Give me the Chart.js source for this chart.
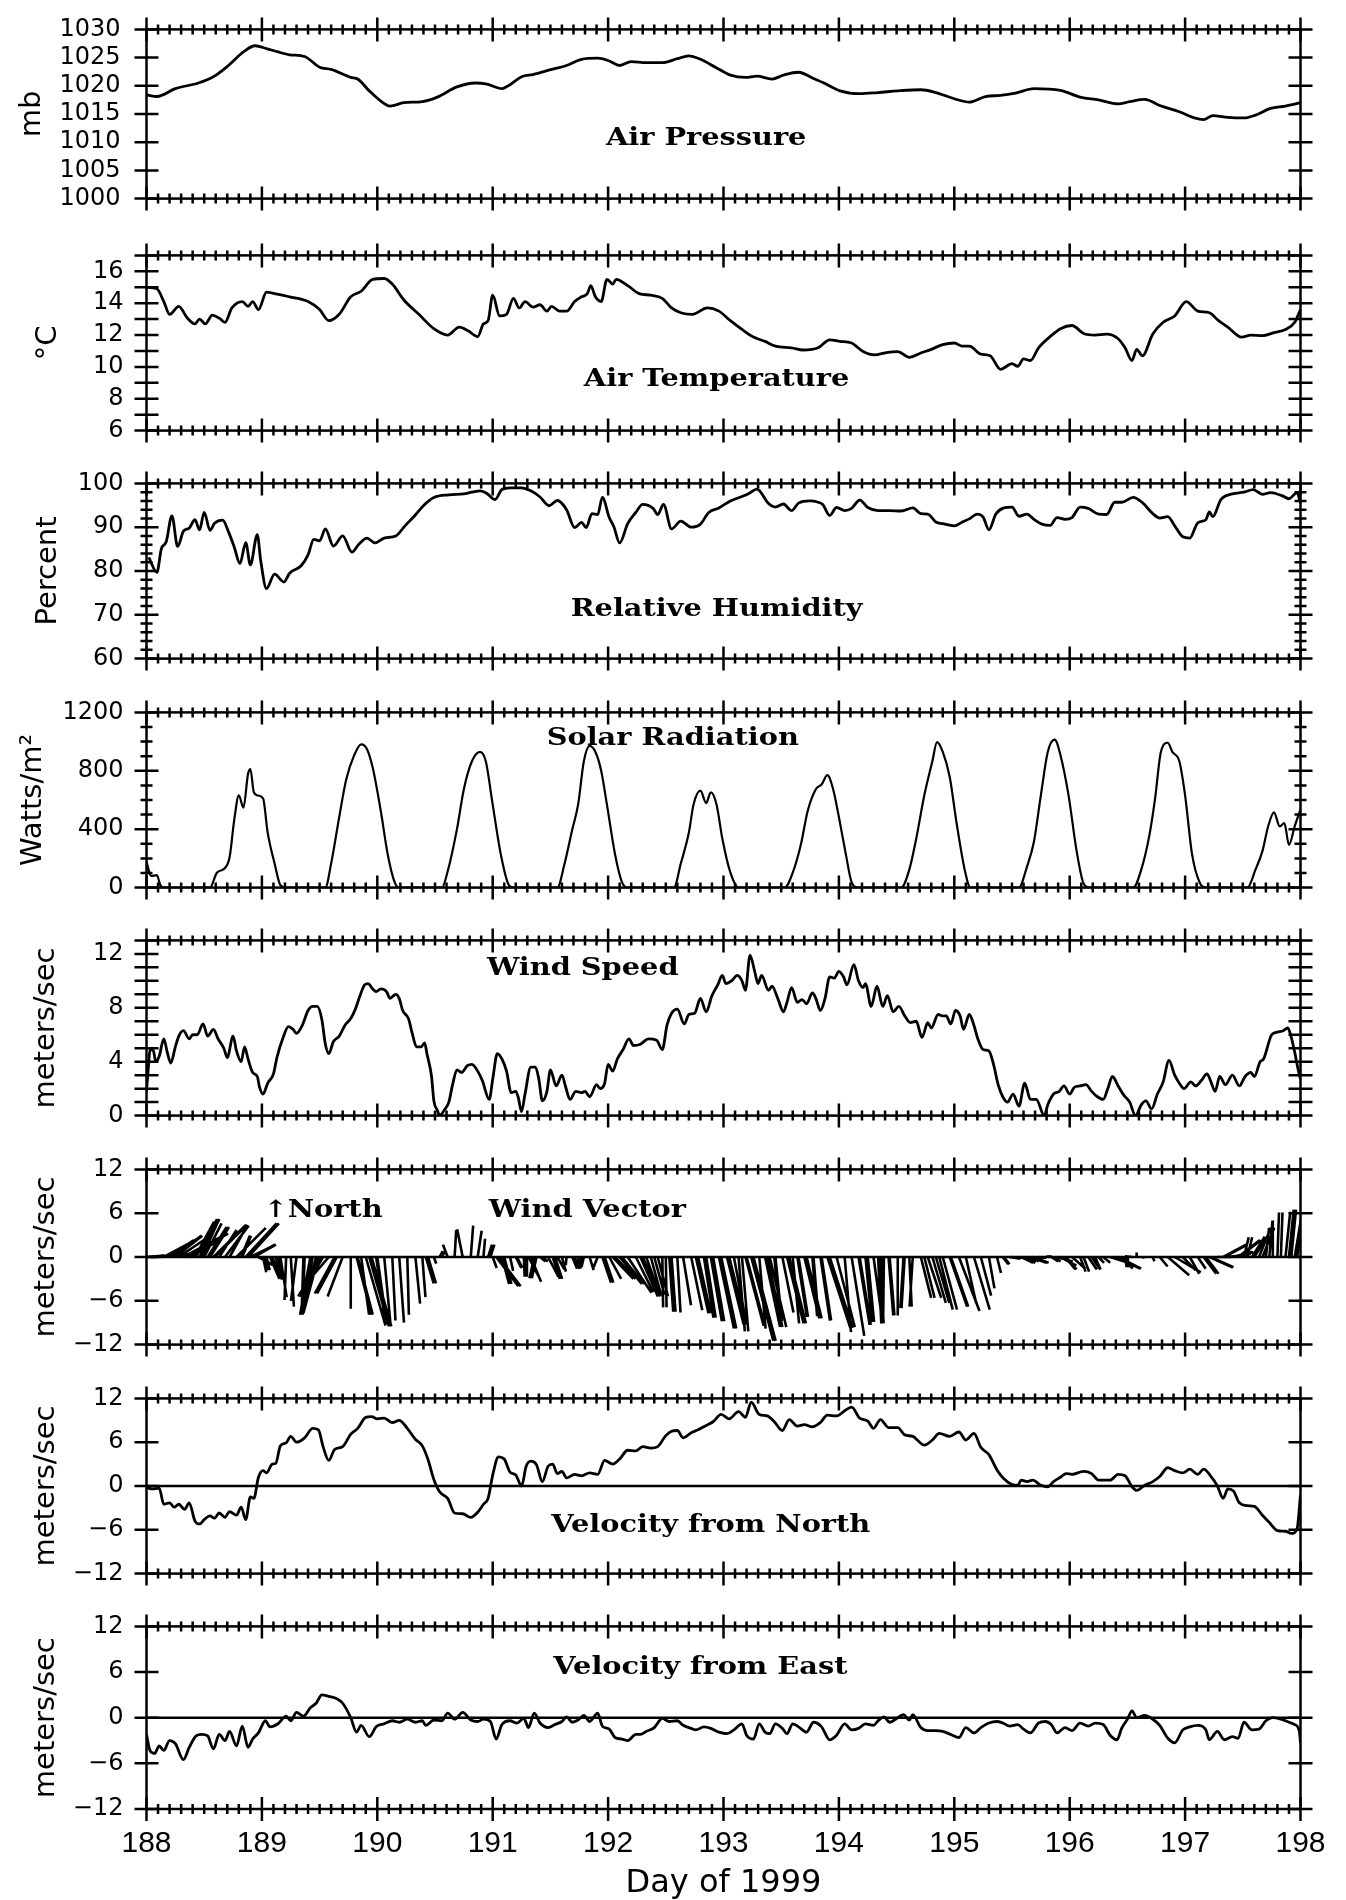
<!DOCTYPE html>
<html>
<head>
<meta charset="utf-8">
<title>Surface meteorology, days 188-198 of 1999</title>
<script src="https://cdn.jsdelivr.net/npm/chart.js@4.4.1/dist/chart.umd.min.js"></script>
<style>
  html, body { margin: 0; padding: 0; background: #fff; }
  body { width: 1346px; height: 1900px; position: relative; overflow: hidden; }
  canvas { position: absolute; left: 0; }
</style>
</head>
<body>
<script>
// ---- values: [day of 1999, value] ----
const dayTicks = [188, 189, 190, 191, 192, 193, 194, 195, 196, 197, 198];
const pressureTicks = [1000, 1005, 1010, 1015, 1020, 1025, 1030];
const temperatureTicks = [6, 8, 10, 12, 14, 16];
const humidityTicks = [60, 70, 80, 90, 100];
const solarTicks = [0, 400, 800, 1200];
const speedTicks = [0, 4, 8, 12];
const velocityTicks = [-12, -6, 0, 6, 12];

const airPressure = [
  [188.00, 1018.4], [188.09, 1018.1], [188.25, 1019.5], [188.45, 1020.5], [188.58, 1021.6],
  [188.71, 1023.6], [188.84, 1026.0], [188.94, 1027.1], [189.04, 1026.6], [189.14, 1026.0],
  [189.24, 1025.5], [189.37, 1025.2], [189.50, 1023.3], [189.60, 1022.9], [189.77, 1021.5],
  [189.83, 1021.2], [189.93, 1019.1], [190.03, 1017.3], [190.11, 1016.4], [190.23, 1017.0],
  [190.39, 1017.2], [190.52, 1018.0], [190.69, 1019.8], [190.85, 1020.5], [190.95, 1020.3],
  [191.08, 1019.5], [191.15, 1020.2], [191.25, 1021.6], [191.35, 1022.0], [191.51, 1022.9],
  [191.64, 1023.6], [191.77, 1024.7], [191.91, 1024.9], [192.01, 1024.4], [192.10, 1023.6],
  [192.20, 1024.3], [192.33, 1024.1], [192.47, 1024.1], [192.60, 1024.8], [192.70, 1025.3],
  [192.80, 1024.7], [192.93, 1023.3], [193.06, 1021.9], [193.19, 1021.5], [193.29, 1021.7],
  [193.42, 1021.2], [193.52, 1021.9], [193.65, 1022.4], [193.78, 1021.3], [193.88, 1020.4],
  [194.01, 1019.1], [194.18, 1018.6], [194.34, 1018.8], [194.51, 1019.1], [194.71, 1019.3],
  [194.84, 1018.8], [195.00, 1017.7], [195.13, 1017.1], [195.27, 1018.1], [195.40, 1018.3],
  [195.53, 1018.7], [195.69, 1019.5], [195.92, 1019.2], [196.09, 1018.0], [196.25, 1017.5],
  [196.42, 1016.8], [196.52, 1017.2], [196.65, 1017.6], [196.78, 1016.5], [196.95, 1015.4],
  [197.08, 1014.3], [197.16, 1014.0], [197.24, 1014.7], [197.37, 1014.4], [197.51, 1014.3],
  [197.61, 1014.8], [197.74, 1016.0], [197.87, 1016.4], [198.00, 1017.0]
];

const airTemperature = [
  [188.00, 15.0], [188.09, 14.9], [188.15, 14.1], [188.20, 13.3], [188.28, 13.8], [188.35, 13.1],
  [188.42, 12.7], [188.46, 13.0], [188.51, 12.7], [188.57, 13.25], [188.63, 13.06], [188.68, 12.8],
  [188.74, 13.7], [188.83, 14.1], [188.88, 13.8], [188.92, 14.1], [188.97, 13.6], [189.04, 14.7],
  [189.11, 14.6], [189.24, 14.4], [189.40, 14.1], [189.50, 13.6], [189.58, 12.9], [189.67, 13.3],
  [189.77, 14.4], [189.86, 14.75], [189.96, 15.5], [190.06, 15.55], [190.13, 15.2], [190.23, 14.2],
  [190.36, 13.3], [190.49, 12.4], [190.61, 12.0], [190.71, 12.5], [190.79, 12.25], [190.87, 11.9],
  [190.92, 12.7], [190.96, 12.9], [191.00, 14.5], [191.06, 13.2], [191.12, 13.3], [191.18, 14.3],
  [191.23, 13.7], [191.28, 14.1], [191.35, 13.75], [191.41, 13.9], [191.47, 13.5], [191.51, 13.8],
  [191.58, 13.5], [191.64, 13.5], [191.71, 14.1], [191.77, 14.4], [191.82, 14.6], [191.85, 15.1],
  [191.89, 14.4], [191.94, 14.1], [191.99, 15.5], [192.04, 15.2], [192.07, 15.5], [192.17, 15.1],
  [192.27, 14.6], [192.37, 14.5], [192.47, 14.3], [192.55, 13.7], [192.63, 13.4], [192.73, 13.3],
  [192.86, 13.7], [192.96, 13.5], [193.06, 12.9], [193.16, 12.35], [193.26, 11.87], [193.36, 11.6],
  [193.45, 11.3], [193.59, 11.2], [193.69, 11.06], [193.82, 11.2], [193.92, 11.7], [194.01, 11.6],
  [194.11, 11.5], [194.21, 10.96], [194.31, 10.75], [194.41, 10.9], [194.51, 10.96], [194.61, 10.6],
  [194.71, 10.87], [194.80, 11.1], [194.90, 11.4], [195.00, 11.5], [195.07, 11.3], [195.13, 11.3],
  [195.23, 10.8], [195.31, 10.7], [195.40, 9.85], [195.50, 10.2], [195.55, 10.04], [195.60, 10.5],
  [195.66, 10.4], [195.73, 11.2], [195.83, 11.9], [195.92, 12.4], [196.02, 12.6], [196.12, 12.1],
  [196.22, 12.0], [196.32, 12.06], [196.42, 11.77], [196.48, 11.2], [196.54, 10.4], [196.58, 11.1],
  [196.63, 10.7], [196.72, 12.06], [196.81, 12.8], [196.91, 13.2], [197.01, 14.1], [197.11, 13.5],
  [197.21, 13.4], [197.29, 12.9], [197.37, 12.5], [197.49, 11.87], [197.57, 12.0], [197.67, 11.96],
  [197.77, 12.15], [197.87, 12.35], [197.95, 12.8], [198.00, 13.6]
];

const relHumidity = [
  [188.02, 83.1], [188.09, 79.7], [188.13, 85.2], [188.17, 86.6], [188.22, 92.6], [188.27, 85.6],
  [188.32, 89.1], [188.37, 89.8], [188.42, 91.7], [188.46, 89.4], [188.50, 93.4], [188.55, 89.3],
  [188.59, 90.9], [188.66, 91.6], [188.71, 89.0], [188.76, 85.5], [188.81, 81.7], [188.86, 86.5],
  [188.90, 81.4], [188.96, 88.3], [188.99, 82.3], [189.04, 76.0], [189.11, 79.3], [189.19, 77.5],
  [189.24, 79.5], [189.34, 81.2], [189.40, 83.7], [189.45, 87.2], [189.50, 86.9], [189.55, 89.6],
  [189.62, 85.7], [189.70, 88.0], [189.78, 84.3], [189.84, 86.1], [189.91, 87.5], [189.98, 86.4],
  [190.06, 87.5], [190.16, 88.0], [190.24, 90.3], [190.33, 92.8], [190.41, 95.2], [190.49, 96.8],
  [190.62, 97.4], [190.75, 97.6], [190.89, 98.3], [190.95, 97.7], [191.02, 96.3], [191.08, 98.6],
  [191.15, 99.0], [191.25, 99.0], [191.33, 98.3], [191.41, 96.9], [191.49, 94.9], [191.56, 96.1],
  [191.64, 94.0], [191.71, 89.9], [191.77, 91.1], [191.81, 89.9], [191.86, 93.1], [191.91, 92.9],
  [191.95, 96.8], [192.01, 92.2], [192.05, 90.1], [192.10, 86.4], [192.17, 90.8], [192.24, 93.4],
  [192.30, 95.2], [192.39, 94.3], [192.43, 92.9], [192.48, 95.2], [192.55, 89.6], [192.63, 91.4],
  [192.72, 90.0], [192.80, 90.7], [192.87, 93.3], [192.96, 94.4], [193.06, 96.0], [193.16, 97.0],
  [193.22, 97.7], [193.29, 98.7], [193.39, 95.4], [193.45, 94.6], [193.52, 95.3], [193.59, 93.8],
  [193.65, 95.5], [193.75, 96.0], [193.82, 95.7], [193.86, 95.2], [193.92, 92.7], [193.98, 94.5],
  [194.05, 93.8], [194.11, 94.3], [194.18, 96.2], [194.25, 94.5], [194.34, 93.8], [194.44, 93.8],
  [194.54, 93.7], [194.64, 94.4], [194.71, 93.1], [194.77, 93.0], [194.84, 91.2], [194.90, 90.8],
  [195.00, 90.3], [195.07, 91.2], [195.13, 91.9], [195.20, 93.0], [195.25, 92.3], [195.30, 89.4],
  [195.36, 93.0], [195.43, 94.4], [195.50, 94.6], [195.56, 92.5], [195.63, 93.0], [195.69, 91.8],
  [195.76, 90.7], [195.83, 90.4], [195.89, 92.2], [195.96, 91.8], [196.02, 92.2], [196.09, 94.6],
  [196.16, 94.3], [196.25, 93.0], [196.32, 92.9], [196.39, 95.7], [196.45, 95.7], [196.55, 96.8],
  [196.63, 95.6], [196.72, 93.1], [196.78, 92.1], [196.85, 92.4], [196.91, 90.3], [196.98, 87.8],
  [197.04, 87.5], [197.11, 91.0], [197.18, 91.7], [197.21, 93.5], [197.24, 92.4], [197.31, 96.3],
  [197.41, 97.6], [197.51, 98.0], [197.59, 98.6], [197.67, 97.5], [197.74, 97.9], [197.84, 97.2],
  [197.90, 96.5], [197.97, 97.9], [198.00, 95.5]
];

const solarRadiation = [
  [188.00, 176], [188.04, 80], [188.09, 85], [188.12, 17], [188.15, 0],
  [188.55, 0], [188.61, 102], [188.68, 134], [188.72, 208], [188.76, 462], [188.80, 632], [188.84, 547],
  [188.88, 780], [188.90, 812], [188.93, 653], [188.96, 632], [189.01, 611], [189.05, 377], [189.11, 165],
  [189.16, 17], [189.21, 0],
  [189.55, 0], [189.60, 165], [189.67, 483], [189.73, 738], [189.80, 907], [189.86, 981], [189.91, 950],
  [189.96, 822], [190.03, 526], [190.09, 229], [190.15, 38], [190.19, 0],
  [190.56, 0], [190.61, 112], [190.69, 399], [190.75, 674], [190.82, 865], [190.89, 929], [190.94, 865],
  [191.00, 568], [191.07, 229], [191.14, 17], [191.18, 0],
  [191.56, 0], [191.62, 155], [191.69, 399], [191.74, 568], [191.79, 865], [191.84, 971], [191.89, 929],
  [191.94, 801], [191.99, 568], [192.06, 229], [192.12, 38], [192.17, 0],
  [192.57, 0], [192.63, 165], [192.70, 377], [192.74, 568], [192.80, 664], [192.85, 579], [192.89, 653],
  [192.94, 568], [192.99, 335], [193.06, 102], [193.13, 0],
  [193.53, 0], [193.60, 102], [193.67, 293], [193.73, 526], [193.80, 674], [193.85, 706], [193.90, 770],
  [193.95, 674], [194.00, 483], [194.06, 229], [194.11, 38], [194.17, 0],
  [194.54, 0], [194.61, 123], [194.67, 335], [194.74, 632], [194.81, 865], [194.85, 996], [194.90, 929],
  [194.96, 759], [195.02, 441], [195.09, 123], [195.14, 0],
  [195.56, 0], [195.63, 144], [195.69, 314], [195.75, 632], [195.81, 929], [195.87, 1013], [195.92, 907],
  [195.99, 632], [196.06, 250], [196.12, 28], [196.17, 0],
  [196.55, 0], [196.62, 123], [196.69, 356], [196.74, 611], [196.79, 929], [196.85, 992], [196.89, 929],
  [196.95, 865], [197.00, 632], [197.06, 229], [197.13, 28], [197.18, 0],
  [197.54, 0], [197.61, 123], [197.67, 250], [197.72, 420], [197.77, 515], [197.82, 420], [197.86, 441],
  [197.90, 293], [197.95, 420], [198.00, 536]
];

const windSpeed = [
  [188.00, 1.8], [188.02, 4.0], [188.03, 4.9], [188.06, 4.8], [188.08, 4.0], [188.11, 4.4], [188.15, 5.7],
  [188.18, 4.7], [188.21, 3.9], [188.25, 5.1], [188.28, 5.9], [188.32, 6.3], [188.37, 5.7], [188.40, 6.0],
  [188.44, 6.0], [188.49, 6.8], [188.53, 5.9], [188.58, 6.4], [188.62, 5.7], [188.67, 5.0], [188.70, 4.3],
  [188.75, 5.9], [188.78, 4.8], [188.82, 4.0], [188.85, 5.1], [188.88, 4.2], [188.92, 3.2], [188.96, 2.9],
  [188.98, 2.1], [189.01, 1.6], [189.05, 2.4], [189.10, 3.1], [189.13, 4.3], [189.18, 5.7], [189.23, 6.6],
  [189.27, 6.4], [189.30, 6.1], [189.35, 6.7], [189.40, 7.8], [189.44, 8.1], [189.48, 8.1], [189.52, 7.1],
  [189.55, 5.3], [189.58, 4.6], [189.62, 5.5], [189.67, 5.9], [189.72, 6.7], [189.77, 7.2], [189.81, 7.9],
  [189.85, 8.9], [189.89, 9.7], [189.92, 9.8], [189.96, 9.4], [189.99, 9.2], [190.03, 9.4], [190.08, 9.2],
  [190.11, 8.7], [190.16, 9.0], [190.19, 8.7], [190.22, 7.8], [190.27, 7.2], [190.30, 6.2], [190.34, 5.1],
  [190.38, 5.1], [190.41, 5.4], [190.43, 4.6], [190.47, 2.9], [190.49, 1.1], [190.52, 0.4], [190.54, 0.0],
  [190.58, 0.4], [190.62, 1.0], [190.65, 2.2], [190.69, 3.4], [190.73, 3.2], [190.78, 3.7], [190.82, 3.8],
  [190.87, 3.3], [190.91, 2.6], [190.97, 1.2], [191.00, 2.7], [191.04, 4.6], [191.08, 4.2], [191.12, 3.3],
  [191.16, 1.7], [191.20, 1.8], [191.22, 1.4], [191.25, 0.3], [191.28, 1.6], [191.33, 3.6], [191.37, 3.6],
  [191.40, 2.7], [191.43, 1.1], [191.47, 1.8], [191.50, 3.4], [191.55, 2.2], [191.60, 3.0], [191.63, 2.2],
  [191.67, 1.2], [191.72, 1.8], [191.77, 1.7], [191.80, 1.8], [191.84, 1.4], [191.90, 2.3], [191.93, 2.0],
  [191.97, 2.4], [192.00, 3.8], [192.04, 3.3], [192.08, 4.2], [192.13, 4.9], [192.18, 5.7], [192.22, 5.2],
  [192.28, 5.3], [192.35, 5.7], [192.42, 5.6], [192.47, 4.9], [192.51, 6.7], [192.55, 7.6], [192.60, 7.9],
  [192.66, 6.8], [192.70, 7.5], [192.75, 7.6], [192.80, 8.7], [192.85, 7.7], [192.90, 8.9], [192.95, 9.7],
  [192.99, 10.4], [193.02, 9.8], [193.07, 10.0], [193.12, 10.4], [193.16, 10.0], [193.19, 9.3], [193.23, 11.9],
  [193.27, 10.7], [193.30, 9.8], [193.33, 10.4], [193.39, 9.3], [193.42, 9.6], [193.47, 8.7], [193.52, 7.7],
  [193.55, 8.4], [193.59, 9.5], [193.64, 8.4], [193.68, 8.6], [193.72, 8.3], [193.77, 9.1], [193.80, 8.7],
  [193.84, 7.8], [193.88, 8.7], [193.92, 10.3], [193.96, 10.2], [194.00, 10.7], [194.04, 10.3], [194.07, 9.7],
  [194.13, 11.2], [194.17, 10.0], [194.21, 9.5], [194.23, 9.8], [194.28, 8.1], [194.33, 9.6], [194.38, 8.1],
  [194.42, 8.9], [194.47, 7.7], [194.52, 8.1], [194.57, 7.4], [194.62, 6.9], [194.67, 7.0], [194.72, 5.8],
  [194.77, 6.9], [194.80, 6.5], [194.86, 7.5], [194.90, 7.4], [194.93, 7.4], [194.97, 6.8], [195.01, 7.8],
  [195.05, 7.4], [195.08, 6.4], [195.13, 7.5], [195.17, 6.7], [195.20, 5.8], [195.25, 4.9], [195.30, 4.8],
  [195.34, 3.8], [195.38, 2.3], [195.42, 1.4], [195.46, 1.0], [195.51, 1.6], [195.56, 0.7], [195.61, 2.4],
  [195.66, 1.2], [195.71, 1.2], [195.78, 0.0], [195.81, 0.8], [195.86, 1.6], [195.91, 1.8], [195.95, 2.2],
  [196.00, 1.6], [196.04, 2.1], [196.09, 2.2], [196.14, 2.3], [196.19, 1.8], [196.24, 1.4], [196.29, 1.2],
  [196.33, 2.0], [196.37, 2.9], [196.42, 2.2], [196.47, 1.5], [196.52, 1.0], [196.57, 0.0], [196.62, 0.8],
  [196.66, 1.1], [196.71, 0.5], [196.76, 1.6], [196.81, 2.5], [196.86, 4.1], [196.91, 3.0], [196.95, 2.4],
  [196.99, 2.0], [197.05, 2.5], [197.09, 2.2], [197.14, 2.6], [197.19, 3.1], [197.22, 2.6], [197.26, 1.8],
  [197.30, 2.9], [197.35, 2.3], [197.41, 3.0], [197.47, 2.2], [197.52, 2.9], [197.57, 3.2], [197.60, 2.9],
  [197.65, 4.0], [197.68, 4.2], [197.75, 6.0], [197.80, 6.2], [197.85, 6.3], [197.89, 6.5], [197.92, 5.8],
  [197.95, 4.7], [197.98, 3.4], [198.00, 2.7]
];

// velocity from north (positive = wind blowing from the north)
const northVelocity = [
  [188.00, -0.2], [188.05, -0.4], [188.11, -0.3], [188.15, -2.5], [188.20, -2.3], [188.24, -2.9],
  [188.28, -2.5], [188.33, -3.2], [188.37, -2.3], [188.42, -4.8], [188.46, -5.2], [188.50, -4.6],
  [188.55, -4.1], [188.59, -4.4], [188.63, -3.7], [188.68, -4.3], [188.72, -3.5], [188.78, -4.0],
  [188.82, -2.9], [188.86, -4.6], [188.90, -1.5], [188.93, -1.7], [188.97, 1.2], [189.01, 2.1],
  [189.04, 1.8], [189.09, 3.0], [189.12, 3.1], [189.16, 5.5], [189.21, 5.9], [189.25, 6.8],
  [189.30, 6.0], [189.37, 6.6], [189.44, 7.9], [189.49, 7.7], [189.53, 5.4], [189.58, 3.5],
  [189.63, 5.0], [189.70, 5.4], [189.77, 7.1], [189.83, 7.9], [189.90, 9.4], [189.95, 9.5],
  [190.00, 9.2], [190.06, 9.3], [190.13, 8.7], [190.19, 9.0], [190.26, 7.9], [190.33, 6.4],
  [190.39, 5.5], [190.44, 3.6], [190.49, 0.9], [190.54, -0.8], [190.61, -1.7], [190.67, -3.7],
  [190.74, -3.8], [190.81, -4.3], [190.87, -3.6], [190.92, -2.5], [190.96, -1.7], [191.00, 1.5],
  [191.05, 4.0], [191.10, 3.7], [191.15, 1.9], [191.20, 1.5], [191.25, 0.0], [191.29, 2.7],
  [191.33, 3.4], [191.38, 2.9], [191.43, 0.6], [191.48, 2.7], [191.52, 3.0], [191.56, 1.7],
  [191.60, 2.0], [191.64, 1.1], [191.71, 1.6], [191.77, 1.4], [191.84, 1.8], [191.91, 1.6],
  [191.97, 3.5], [192.04, 3.0], [192.10, 3.7], [192.17, 4.9], [192.24, 4.8], [192.30, 5.4],
  [192.37, 5.2], [192.43, 5.4], [192.50, 6.9], [192.55, 7.5], [192.60, 7.6], [192.65, 6.6],
  [192.72, 7.3], [192.78, 7.7], [192.85, 8.3], [192.91, 8.8], [192.98, 9.8], [193.05, 9.2],
  [193.13, 10.2], [193.19, 9.4], [193.24, 11.5], [193.31, 9.8], [193.38, 9.6], [193.44, 8.8],
  [193.51, 7.6], [193.57, 9.1], [193.64, 8.2], [193.70, 8.4], [193.77, 8.1], [193.84, 8.7],
  [193.90, 9.7], [193.98, 9.6], [194.05, 10.3], [194.11, 10.8], [194.18, 9.3], [194.25, 8.9],
  [194.30, 7.9], [194.36, 9.1], [194.43, 8.0], [194.51, 8.0], [194.57, 7.0], [194.64, 6.8],
  [194.74, 5.6], [194.81, 6.3], [194.87, 7.2], [194.96, 6.8], [195.04, 7.4], [195.10, 6.3],
  [195.17, 7.2], [195.23, 5.3], [195.30, 4.3], [195.37, 2.2], [195.43, 1.0], [195.50, 0.2],
  [195.55, 0.1], [195.58, 0.8], [195.63, 0.6], [195.68, 0.8], [195.75, 0.1], [195.81, -0.1],
  [195.86, 0.6], [195.92, 1.2], [195.97, 1.7], [196.02, 1.6], [196.12, 2.0], [196.19, 1.7],
  [196.25, 0.8], [196.35, 0.8], [196.42, 1.6], [196.48, 1.4], [196.54, -0.1], [196.58, -0.6],
  [196.65, 0.1], [196.72, 0.6], [196.78, 1.3], [196.85, 2.5], [196.91, 2.1], [196.98, 1.8],
  [197.04, 2.3], [197.11, 1.6], [197.16, 2.3], [197.22, 1.4], [197.28, 0.0], [197.33, -1.7],
  [197.37, -0.4], [197.42, -0.7], [197.47, -2.3], [197.54, -2.7], [197.60, -2.8], [197.67, -4.0],
  [197.73, -5.0], [197.80, -6.1], [197.87, -6.2], [197.92, -6.5], [197.97, -5.9], [198.00, -1.2]
];

// velocity from east (positive = wind blowing from the east)
const eastVelocity = [
  [188.00, -2.2], [188.03, -4.3], [188.07, -4.7], [188.11, -3.7], [188.15, -4.3], [188.20, -3.0],
  [188.25, -3.4], [188.32, -5.5], [188.37, -3.9], [188.43, -2.4], [188.48, -2.2], [188.53, -2.4],
  [188.58, -4.1], [188.63, -2.2], [188.68, -3.0], [188.72, -1.8], [188.78, -3.7], [188.83, -1.1],
  [188.88, -3.9], [188.92, -2.8], [188.97, -2.0], [189.03, -0.4], [189.07, -1.2], [189.14, -0.8],
  [189.21, 0.2], [189.25, -0.4], [189.30, 0.7], [189.36, 0.2], [189.42, 1.3], [189.47, 1.9],
  [189.52, 3.0], [189.58, 2.8], [189.65, 2.5], [189.70, 1.9], [189.77, 0.0], [189.82, -1.9],
  [189.86, -1.0], [189.93, -2.5], [189.99, -1.2], [190.06, -0.8], [190.13, -0.4], [190.19, -0.6],
  [190.26, -0.2], [190.33, -0.6], [190.39, -0.4], [190.42, -1.0], [190.49, -0.3], [190.56, -0.4],
  [190.61, 0.6], [190.67, -0.2], [190.74, 0.7], [190.81, -0.3], [190.87, -0.5], [190.92, -0.2],
  [190.98, -0.5], [191.03, -2.8], [191.08, -0.9], [191.15, -0.4], [191.21, -0.7], [191.27, -0.1],
  [191.31, -1.3], [191.36, 0.6], [191.41, -0.7], [191.48, -1.3], [191.54, -0.9], [191.60, -0.5],
  [191.64, 0.1], [191.69, -0.6], [191.74, -0.3], [191.79, 0.3], [191.84, -0.5], [191.91, 0.6],
  [191.95, -1.1], [192.01, -1.5], [192.06, -2.6], [192.12, -2.8], [192.17, -3.0], [192.24, -2.2],
  [192.28, -2.2], [192.33, -1.8], [192.40, -1.3], [192.47, -0.1], [192.53, -0.5], [192.60, -0.4],
  [192.65, -1.0], [192.72, -1.4], [192.76, -1.6], [192.83, -1.2], [192.89, -1.4], [192.96, -1.9],
  [193.03, -2.1], [193.09, -1.6], [193.16, -0.8], [193.20, -2.3], [193.26, -2.8], [193.31, -0.8],
  [193.36, -1.9], [193.40, -2.1], [193.45, -0.8], [193.51, -1.4], [193.55, -2.1], [193.60, -0.8],
  [193.65, -1.2], [193.72, -1.9], [193.78, -0.6], [193.85, -1.2], [193.92, -2.9], [193.98, -2.3],
  [194.05, -0.8], [194.11, -1.6], [194.17, -1.4], [194.23, -0.8], [194.30, -1.0], [194.34, -0.4],
  [194.39, 0.1], [194.44, -0.6], [194.51, 0.0], [194.56, 0.4], [194.61, -0.3], [194.64, 0.4],
  [194.71, -1.3], [194.77, -1.7], [194.84, -1.7], [194.90, -1.8], [194.97, -2.2], [195.04, -2.6],
  [195.10, -1.3], [195.17, -2.0], [195.23, -1.3], [195.30, -0.7], [195.37, -0.5], [195.42, -0.7],
  [195.48, -1.1], [195.55, -0.9], [195.60, -1.5], [195.66, -2.0], [195.73, -0.7], [195.79, -0.5],
  [195.84, -0.9], [195.89, -2.0], [195.96, -1.3], [196.02, -1.7], [196.09, -0.7], [196.16, -1.1],
  [196.22, -0.7], [196.29, -0.9], [196.35, -2.3], [196.41, -2.9], [196.45, -1.4], [196.50, -0.2],
  [196.54, 0.9], [196.58, 0.0], [196.65, 0.3], [196.72, -0.2], [196.78, -1.0], [196.85, -2.7],
  [196.91, -3.3], [196.98, -1.6], [197.04, -1.2], [197.11, -1.0], [197.18, -1.6], [197.21, -2.9],
  [197.28, -1.8], [197.34, -2.9], [197.41, -2.5], [197.46, -2.7], [197.51, -0.6], [197.58, -1.6],
  [197.64, -1.5], [197.70, -0.4], [197.76, 0.0], [197.83, -0.2], [197.90, -0.6], [197.95, -0.9],
  [197.99, -1.8], [198.00, -3.3]
];

// ---- layout (pixels in the 1346 x 1900 page) ----
const PAGE_W = 1346;
const PLOT_LEFT = 146.5;
const PLOT_RIGHT = 1300.5;
const PANEL_H = 190;
const PANEL_TOPS = [19, 248, 476, 705, 933, 1162, 1391, 1619];
const MARGIN = 30;
const X_AXIS_H = 94;
const NOTE_STRETCH = 1.2;
// sticks are drawn so that 1 m/s is the same length across as it is up
const STICK_DAYS_PER_MS = (PANEL_H / 24) / ((PLOT_RIGHT - PLOT_LEFT) / 10);

const pts = arr => arr.map(([d, v]) => ({x: d, y: v}));

function nearest(series, day) {
  // the reading of a series closest in time to the given day
  let best = series[0];
  for (const p of series) if (Math.abs(p[0] - day) < Math.abs(best[0] - day)) best = p;
  return best[1];
}

function windSticks() {
  // one stick at every time either component was read
  const times = [...new Set([...northVelocity, ...eastVelocity].map(p => p[0]))].sort((a, b) => a - b);
  const out = [];
  times.forEach(d => {
    const u = -nearest(eastVelocity, d), v = -nearest(northVelocity, d);   // blowing toward
    out.push({x: d, y: 0}, {x: d + u * STICK_DAYS_PER_MS, y: v}, {x: d, y: null});
  });
  return out;
}

// frame with cross ticks, zero line and panel captions
const panelFrame = {
  id: 'panelFrame',
  afterDatasetsDraw(chart, args, o) {
    const {ctx, chartArea: a} = chart;
    const xs = chart.scales.x, ys = chart.scales.y;
    ctx.save();
    ctx.strokeStyle = '#000';
    ctx.lineWidth = 2.5;
    ctx.lineCap = 'butt';

    if (o.zeroLine) {
      const py = ys.getPixelForValue(0);
      ctx.beginPath();
      ctx.moveTo(a.left, py);
      ctx.lineTo(a.right, py);
      ctx.stroke();
    }

    ctx.strokeRect(a.left, a.top, a.right - a.left, a.bottom - a.top);

    ctx.beginPath();
    for (let k = 0; k <= 100; k++) {
      const px = xs.getPixelForValue(188 + k / 10);
      const len = k % 10 === 0 ? 12 : 5;
      [a.top, a.bottom].forEach(edge => {
        ctx.moveTo(px, edge - len);
        ctx.lineTo(px, edge + len);
      });
    }
    [[o.minorStep, 6], [o.majorStep, 12]].forEach(([step, len]) => {
      if (!step) return;
      const n = Math.round((ys.max - ys.min) / step);
      for (let k = 0; k <= n; k++) {
        const py = ys.getPixelForValue(ys.min + k * step);
        [a.left, a.right].forEach(edge => {
          ctx.moveTo(edge - len, py);
          ctx.lineTo(edge + len, py);
        });
      }
    });
    ctx.stroke();

    ctx.fillStyle = '#000';
    ctx.font = 'bold 24px "DejaVu Serif"';
    ctx.textAlign = 'center';
    ctx.textBaseline = 'middle';
    (o.notes || []).forEach(n => {
      ctx.save();
      ctx.translate(xs.getPixelForValue(n.day), ys.getPixelForValue(n.value));
      ctx.scale(NOTE_STRETCH, 1);
      ctx.fillText(n.text, 0, 0);
      ctx.restore();
    });
    ctx.restore();
  }
};

function lineSet(data, width) {
  return {
    data: pts(data),
    borderColor: '#000',
    borderWidth: width || 2.8,
    pointRadius: 0,
    fill: false,
    cubicInterpolationMode: 'monotone'
  };
}

function makePanel(idx, cfg) {
  const top = PANEL_TOPS[idx];
  const last = !!cfg.xAxis;
  const canvas = document.createElement('canvas');
  const h = last ? 320 : PANEL_H + 2 * MARGIN;
  canvas.width = PAGE_W;
  canvas.height = h;
  canvas.style.top = (top - MARGIN) + 'px';
  document.body.appendChild(canvas);

  new Chart(canvas, {
    type: 'line',
    data: {datasets: cfg.datasets},
    options: {
      responsive: false,
      animation: false,
      devicePixelRatio: 1,
      events: [],
      layout: {
        padding: {
          left: 0,
          right: PAGE_W - PLOT_RIGHT,
          top: MARGIN,
          bottom: last ? h - MARGIN - PANEL_H - X_AXIS_H : MARGIN
        }
      },
      plugins: {
        legend: {display: false},
        tooltip: {enabled: false},
        panelFrame: {
          zeroLine: cfg.zeroLine,
          majorStep: cfg.majorStep,
          minorStep: cfg.minorStep,
          notes: cfg.notes
        }
      },
      scales: {
        x: {
          type: 'linear',
          min: 188,
          max: 198,
          bounds: 'data',
          display: last,
          afterFit: s => { s.height = last ? X_AXIS_H : 0; },
          afterBuildTicks: s => { s.ticks = dayTicks.map(v => ({value: v})); },
          grid: {display: false, drawTicks: false},
          border: {display: false},
          ticks: {
            color: '#000',
            padding: 17,
            maxRotation: 0,
            autoSkip: false,
            font: {family: 'Liberation Sans', size: 30}
          },
          title: {
            display: last,
            text: 'Day of 1999',
            color: '#000',
            padding: {top: 0, bottom: 0},
            font: {family: 'DejaVu Sans', size: 32}
          }
        },
        y: {
          type: 'linear',
          min: cfg.min,
          max: cfg.max,
          bounds: 'data',
          afterFit: s => { s.width = PLOT_LEFT; },
          afterBuildTicks: s => { s.ticks = cfg.ticks.map(v => ({value: v})); },
          grid: {display: false, drawTicks: false},
          border: {display: false},
          ticks: {
            color: '#000',
            autoSkip: false,
            padding: cfg.labelPad || 23,
            font: {family: 'DejaVu Sans', size: 24},
            callback: v => String(v).replace('-', '\u2212')
          },
          title: {
            display: true,
            text: cfg.unit,
            color: '#000',
            padding: {top: cfg.unitPad, bottom: 0},
            font: {family: 'DejaVu Sans', size: 29}
          }
        }
      }
    },
    plugins: [panelFrame]
  });
}

const sticks = {
  data: windSticks(),
  borderColor: '#000',
  borderWidth: 2.6,
  pointRadius: 0,
  fill: false,
  tension: 0,
  spanGaps: false
};

makePanel(0, {
  datasets: [lineSet(airPressure)], min: 1000, max: 1030, ticks: pressureTicks,
  majorStep: 5, unit: 'mb', unitPad: 15, labelPad: 26,
  notes: [{text: 'Air Pressure', day: 192.85, value: 1010.6}]
});
makePanel(1, {
  datasets: [lineSet(airTemperature)], min: 6, max: 17, ticks: temperatureTicks,
  majorStep: 1, unit: '\u00B0C', unitPad: 31,
  notes: [{text: 'Air Temperature', day: 192.94, value: 9.2}]
});
makePanel(2, {
  datasets: [lineSet(relHumidity)], min: 60, max: 100, ticks: humidityTicks,
  majorStep: 10, minorStep: 2, unit: 'Percent', unitPad: 31,
  notes: [{text: 'Relative Humidity', day: 192.94, value: 71.1}]
});
makePanel(3, {
  datasets: [lineSet(solarRadiation, 2.2)], min: 0, max: 1200, ticks: solarTicks,
  majorStep: 400, minorStep: 100, unit: 'Watts/m\u00B2', unitPad: 16,
  notes: [{text: 'Solar Radiation', day: 192.56, value: 1022}]
});
makePanel(4, {
  datasets: [lineSet(windSpeed)], min: 0, max: 13, ticks: speedTicks,
  majorStep: 1, unit: 'meters/sec', unitPad: 29,
  notes: [{text: 'Wind Speed', day: 191.78, value: 10.9}]
});
makePanel(5, {
  datasets: [sticks], min: -12, max: 12, ticks: velocityTicks,
  majorStep: 6, unit: 'meters/sec', unitPad: 29, zeroLine: true,
  notes: [{text: '\u2191North', day: 189.53, value: 6.4}, {text: 'Wind Vector', day: 191.82, value: 6.4}]
});
makePanel(6, {
  datasets: [lineSet(northVelocity)], min: -12, max: 12, ticks: velocityTicks,
  majorStep: 6, unit: 'meters/sec', unitPad: 29, zeroLine: true,
  notes: [{text: 'Velocity from North', day: 192.89, value: -5.5}]
});
makePanel(7, {
  datasets: [lineSet(eastVelocity)], min: -12, max: 12, ticks: velocityTicks,
  majorStep: 6, unit: 'meters/sec', unitPad: 29, zeroLine: true, xAxis: true,
  notes: [{text: 'Velocity from East', day: 192.8, value: 6.5}]
});
</script>
</body>
</html>
